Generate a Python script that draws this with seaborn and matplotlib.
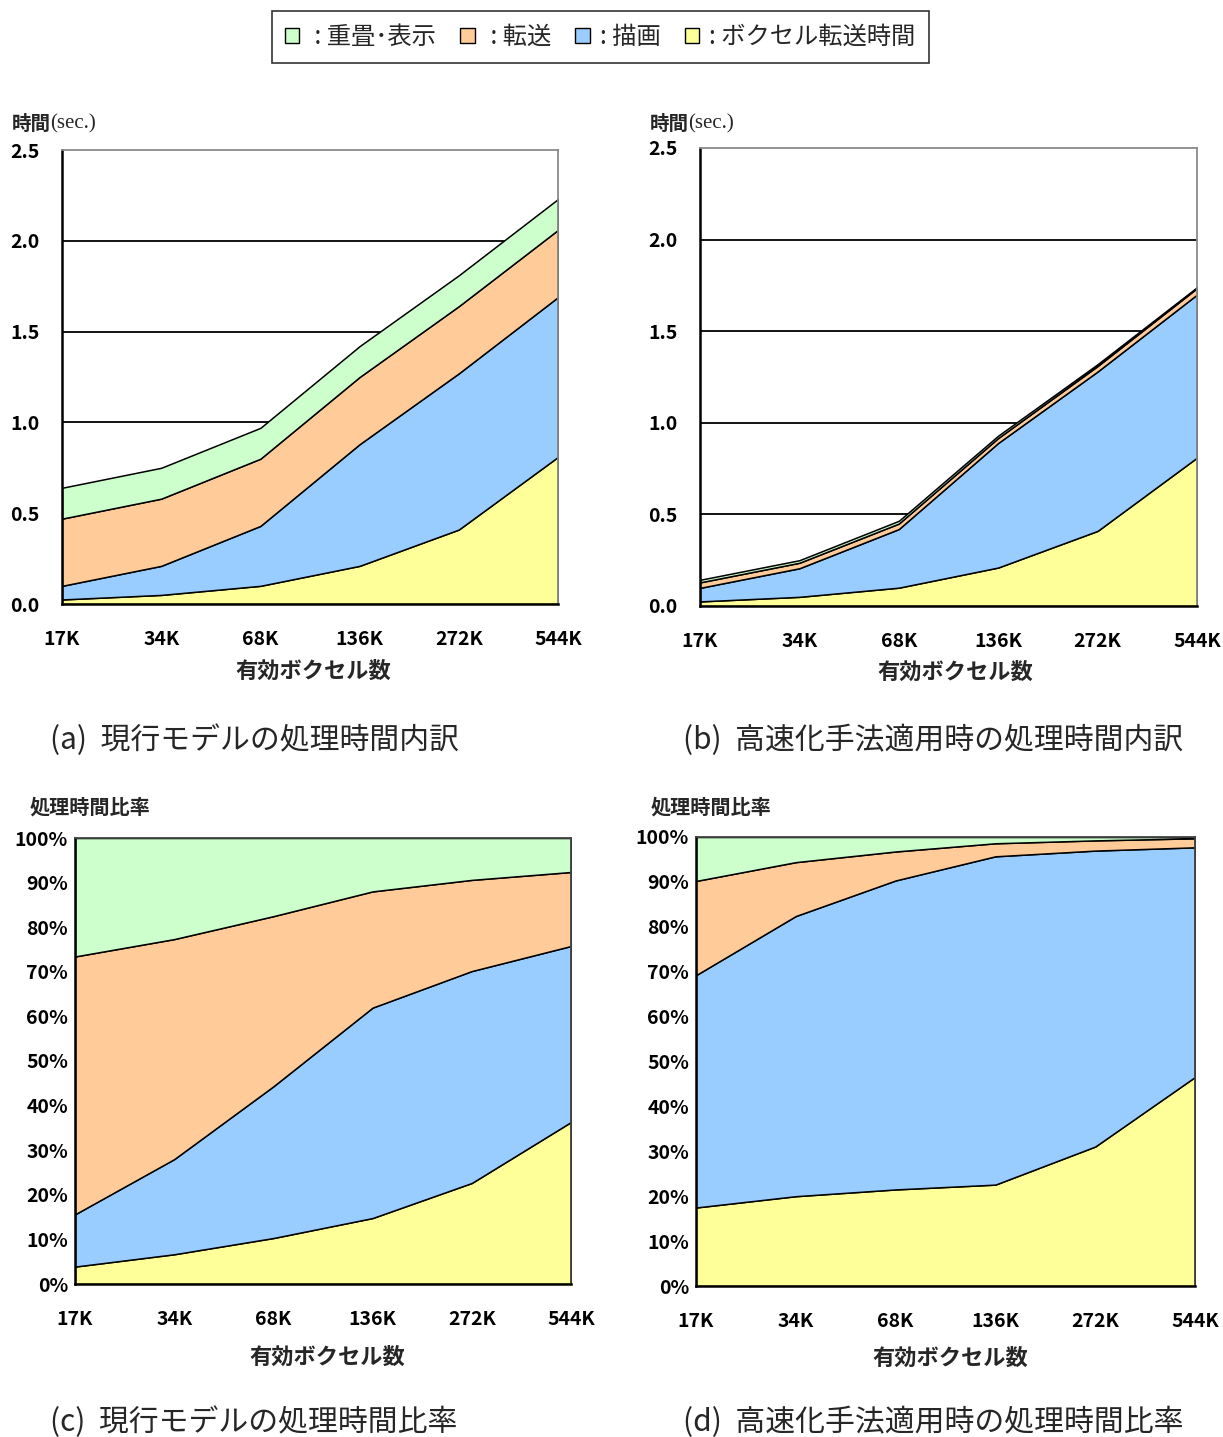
import numpy as np
import pandas as pd
import matplotlib
matplotlib.use("Agg")
import matplotlib.pyplot as plt
from matplotlib.patches import Patch
import seaborn as sns

# ---------------- data ----------------
categories = ["17K", "34K", "68K", "136K", "272K", "544K"]
series_names = ["ボクセル転送時間", "描画", "転送", "重畳・表示"]

# (a) current model [sec]
cur_voxel = [0.025, 0.05, 0.10, 0.21, 0.41, 0.81]
cur_draw = [0.075, 0.16, 0.33, 0.67, 0.86, 0.88]
cur_transfer = [0.37, 0.37, 0.37, 0.37, 0.37, 0.37]
cur_overlay = [0.17, 0.17, 0.17, 0.17, 0.17, 0.17]

# (b) accelerated method [sec]
fast_voxel = [0.025, 0.05, 0.10, 0.21, 0.41, 0.81]
fast_draw = [0.074, 0.156, 0.32, 0.68, 0.87, 0.89]
fast_transfer = [0.03, 0.03, 0.03, 0.027, 0.03, 0.035]
fast_overlay = [0.014, 0.014, 0.015, 0.013, 0.01, 0.005]

time_ticks = [0.0, 0.5, 1.0, 1.5, 2.0, 2.5]
time_tick_labels = ["0.0", "0.5", "1.0", "1.5", "2.0", "2.5"]
pct_ticks = list(range(0, 101, 10))
pct_tick_labels = [f"{v}%" for v in pct_ticks]

legend_labels = [" : 重畳･表示", " : 転送", ": 描画", ": ボクセル転送時間"]
captions = ["(a)  現行モデルの処理時間内訳", "(b)  高速化手法適用時の処理時間内訳",
            "(c)  現行モデルの処理時間比率", "(d)  高速化手法適用時の処理時間比率"]

colors = {"ボクセル転送時間": "#FFFF99", "描画": "#99CCFF", "転送": "#FFCC99", "重畳・表示": "#CCFFCC"}

# ---------------- style ----------------
sns.set_style("white")
plt.rcParams['font.family'] = ['Noto Sans CJK JP', 'DejaVu Sans']

W, H = 1223, 1437
fig = plt.figure(figsize=(W / 100, H / 100), dpi=100)


def rect(l, t, r, b):
    return [l / W, 1 - b / H, (r - l) / W, (b - t) / H]


def make_df(v, d, t, o):
    return pd.DataFrame({"ボクセル転送時間": v, "描画": d, "転送": t, "重畳・表示": o},
                        index=categories)


df_cur = make_df(cur_voxel, cur_draw, cur_transfer, cur_overlay)
df_fast = make_df(fast_voxel, fast_draw, fast_transfer, fast_overlay)


def to_pct(df):
    return df.div(df.sum(axis=1), axis=0) * 100


TICK_FS = 14


def draw_area(ax, df, percent, ylabel_pad):
    x = np.arange(len(categories))
    if not percent:
        for g in [0.5, 1.0, 1.5, 2.0]:
            ax.axhline(g, color="black", lw=1.3, zorder=0)
    ax.stackplot(x, *[df[c].values for c in series_names],
                 colors=[colors[c] for c in series_names],
                 edgecolor="black", linewidth=1.1, zorder=2)
    ax.set_xlim(0, len(categories) - 1)
    ax.set_xticks(x)
    ax.set_xticklabels(categories, fontsize=TICK_FS, fontweight="bold")
    if percent:
        ax.set_ylim(0, 100)
        ax.set_yticks(pct_ticks)
        ax.set_yticklabels(pct_tick_labels, fontsize=TICK_FS, fontweight="bold")
    else:
        ax.set_ylim(0, 2.5)
        ax.set_yticks(time_ticks)
        ax.set_yticklabels(time_tick_labels, fontsize=TICK_FS, fontweight="bold")
    ax.tick_params(axis="x", direction="in", length=6, width=1.2, pad=19, colors="black")
    ax.tick_params(axis="y", direction="out", length=4, width=1.2, pad=ylabel_pad, colors="black")
    for s in ["left", "bottom"]:
        ax.spines[s].set_color("black")
        ax.spines[s].set_linewidth(1.8)
    for s in ["top", "right"]:
        ax.spines[s].set_color("#8a8a8a" if not percent else "#444444")
        ax.spines[s].set_linewidth(1.3)
    ax.set_xlabel("")
    ax.set_ylabel("")


ax_a = fig.add_axes(rect(62, 150, 558, 604))
ax_b = fig.add_axes(rect(700, 148, 1197, 606))
ax_c = fig.add_axes(rect(75, 838, 571, 1284))
ax_d = fig.add_axes(rect(696, 837, 1195, 1286))

draw_area(ax_a, df_cur, False, 12)
draw_area(ax_b, df_fast, False, 12)
draw_area(ax_c, to_pct(df_cur), True, 1)
draw_area(ax_d, to_pct(df_fast), True, 1)


def ftext(x, y, s, **kw):
    fig.text(x / W, 1 - y / H, s, **kw)


# y titles
for x0 in (12, 650):
    ftext(x0, 124, "時間", fontsize=14, fontweight="bold", va="center", ha="left")
    ftext(x0 + 38, 124, "(sec.)", fontsize=15, va="center", ha="left",
          family=["Liberation Serif", "DejaVu Serif"])
ftext(30, 807, "処理時間比率", fontsize=14.5, fontweight="bold", va="center", ha="left")
ftext(651, 807, "処理時間比率", fontsize=14.5, fontweight="bold", va="center", ha="left")

# x axis titles
XL_FS = 16
ftext(313, 671, "有効ボクセル数", fontsize=XL_FS, fontweight="bold", ha="center", va="center")
ftext(955, 672, "有効ボクセル数", fontsize=XL_FS, fontweight="bold", ha="center", va="center")
ftext(327, 1357, "有効ボクセル数", fontsize=XL_FS, fontweight="bold", ha="center", va="center")
ftext(950, 1358, "有効ボクセル数", fontsize=XL_FS, fontweight="bold", ha="center", va="center")

# captions
CAP_FS = 21.5
ftext(50, 740, captions[0], fontsize=CAP_FS, ha="left", va="center")
ftext(683, 740, captions[1], fontsize=CAP_FS, ha="left", va="center")
ftext(50, 1422, captions[2], fontsize=CAP_FS, ha="left", va="center")
ftext(683, 1422, captions[3], fontsize=CAP_FS, ha="left", va="center")

# legend
leg_order = ["重畳・表示", "転送", "描画", "ボクセル転送時間"]
handles = [Patch(facecolor=colors[c], edgecolor="black", linewidth=1.0) for c in leg_order]
leg = fig.legend(handles, legend_labels, loc="center", bbox_to_anchor=(600 / W, 1 - 37 / H),
                 ncol=4, frameon=True, fancybox=False, fontsize=17.5,
                 handlelength=0.6, handleheight=0.6, handletextpad=0.4,
                 columnspacing=1.0, borderpad=0.55)
leg.get_frame().set_edgecolor("black")
leg.get_frame().set_linewidth(1.2)

fig.savefig("out.png", dpi=100)
